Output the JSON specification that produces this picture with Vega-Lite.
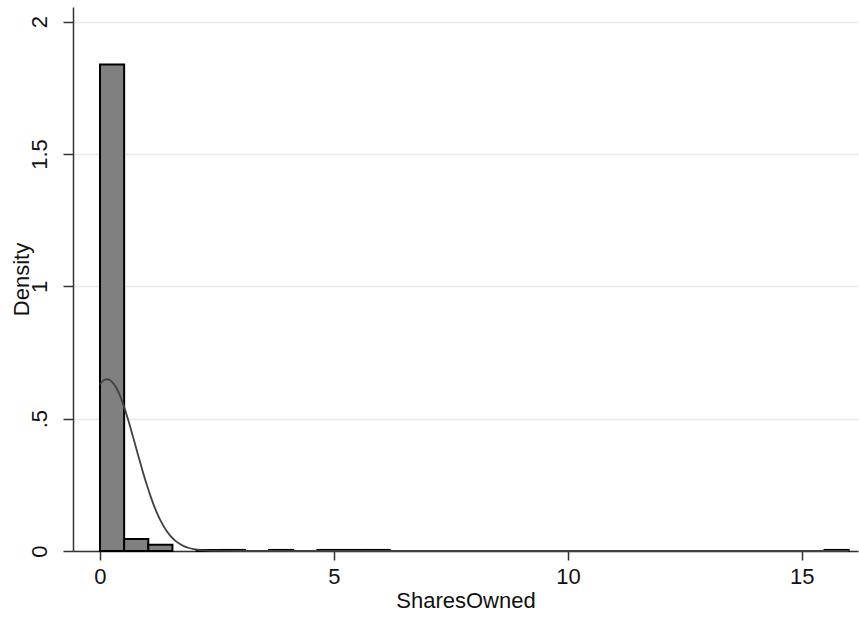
{
  "$schema": "https://vega.github.io/schema/vega-lite/v6.json",
  "autosize": {"type": "none"},
  "padding": {"left": 73, "top": 7, "right": 1, "bottom": 66},
  "width": 785,
  "height": 544,
  "background": "white",
  "config": {
    "font": "Liberation Sans",
    "view": {"stroke": null},
    "axis": {
      "domainColor": "#333333",
      "domainWidth": 1.5,
      "tickColor": "#333333",
      "tickWidth": 1.5,
      "tickSize": 9,
      "labelColor": "#111111",
      "titleColor": "#111111",
      "labelFontSize": 22,
      "titleFontSize": 22,
      "titleFontWeight": "normal",
      "gridColor": "#e8e8e8",
      "gridWidth": 1.5
    }
  },
  "datasets": {
    "bins": [
      {"bin_start": 0.0, "bin_end": 0.516, "density": 1.838},
      {"bin_start": 0.516, "bin_end": 1.032, "density": 0.045},
      {"bin_start": 1.032, "bin_end": 1.548, "density": 0.024},
      {"bin_start": 2.065, "bin_end": 2.581, "density": 0.004},
      {"bin_start": 2.581, "bin_end": 3.097, "density": 0.004},
      {"bin_start": 3.613, "bin_end": 4.129, "density": 0.004},
      {"bin_start": 4.645, "bin_end": 5.161, "density": 0.004},
      {"bin_start": 5.161, "bin_end": 5.677, "density": 0.004},
      {"bin_start": 5.677, "bin_end": 6.194, "density": 0.004},
      {"bin_start": 15.484, "bin_end": 16.0, "density": 0.004}
    ],
    "curve": [
      {"x": 0.0, "density": 0.630},
      {"x": 0.1, "density": 0.647},
      {"x": 0.15, "density": 0.649},
      {"x": 0.2, "density": 0.647},
      {"x": 0.3, "density": 0.630},
      {"x": 0.4, "density": 0.598},
      {"x": 0.5, "density": 0.552},
      {"x": 0.6, "density": 0.497},
      {"x": 0.7, "density": 0.435},
      {"x": 0.8, "density": 0.371},
      {"x": 0.9, "density": 0.309},
      {"x": 1.0, "density": 0.250},
      {"x": 1.1, "density": 0.197},
      {"x": 1.2, "density": 0.151},
      {"x": 1.3, "density": 0.113},
      {"x": 1.4, "density": 0.0822},
      {"x": 1.5, "density": 0.0583},
      {"x": 1.6, "density": 0.0403},
      {"x": 1.7, "density": 0.0271},
      {"x": 1.8, "density": 0.0177},
      {"x": 1.9, "density": 0.0113},
      {"x": 2.0, "density": 0.0070},
      {"x": 2.2, "density": 0.0025},
      {"x": 2.4, "density": 0.0008},
      {"x": 2.6, "density": 0.0003},
      {"x": 3.0, "density": 0.0},
      {"x": 4.0, "density": 0.0},
      {"x": 6.0, "density": 0.0},
      {"x": 10.0, "density": 0.0},
      {"x": 16.0, "density": 0.0}
    ]
  },
  "layer": [
    {
      "data": {"name": "bins"},
      "mark": {"type": "bar", "fill": "#808080", "stroke": "#000000", "strokeWidth": 2, "clip": false},
      "encoding": {
        "x": {
          "field": "bin_start", "type": "quantitative",
          "scale": {"domain": [-0.577, 16.2], "nice": false, "zero": false},
          "axis": {
            "title": "SharesOwned",
            "values": [0, 5, 10, 15],
            "grid": false,
            "labelPadding": 6,
            "titlePadding": 3
          }
        },
        "x2": {"field": "bin_end"},
        "y": {
          "field": "density", "type": "quantitative",
          "scale": {"domain": [0, 2.0555], "nice": false, "zero": true},
          "stack": null,
          "axis": {
            "title": "Density",
            "values": [0, 0.5, 1, 1.5, 2],
            "labelExpr": "datum.value == 0.5 ? '.5' : format(datum.value, '~g')",
            "labelAngle": 270,
            "labelAlign": "center",
            "labelBaseline": "bottom",
            "labelPadding": 12,
            "grid": true,
            "tickSize": 10,
            "titlePadding": -5
          }
        },
        "y2": {"datum": 0}
      }
    },
    {
      "data": {"name": "curve"},
      "mark": {"type": "line", "color": "#404040", "strokeWidth": 1.8, "interpolate": "monotone"},
      "encoding": {
        "x": {"field": "x", "type": "quantitative"},
        "y": {"field": "density", "type": "quantitative"}
      }
    }
  ]
}
